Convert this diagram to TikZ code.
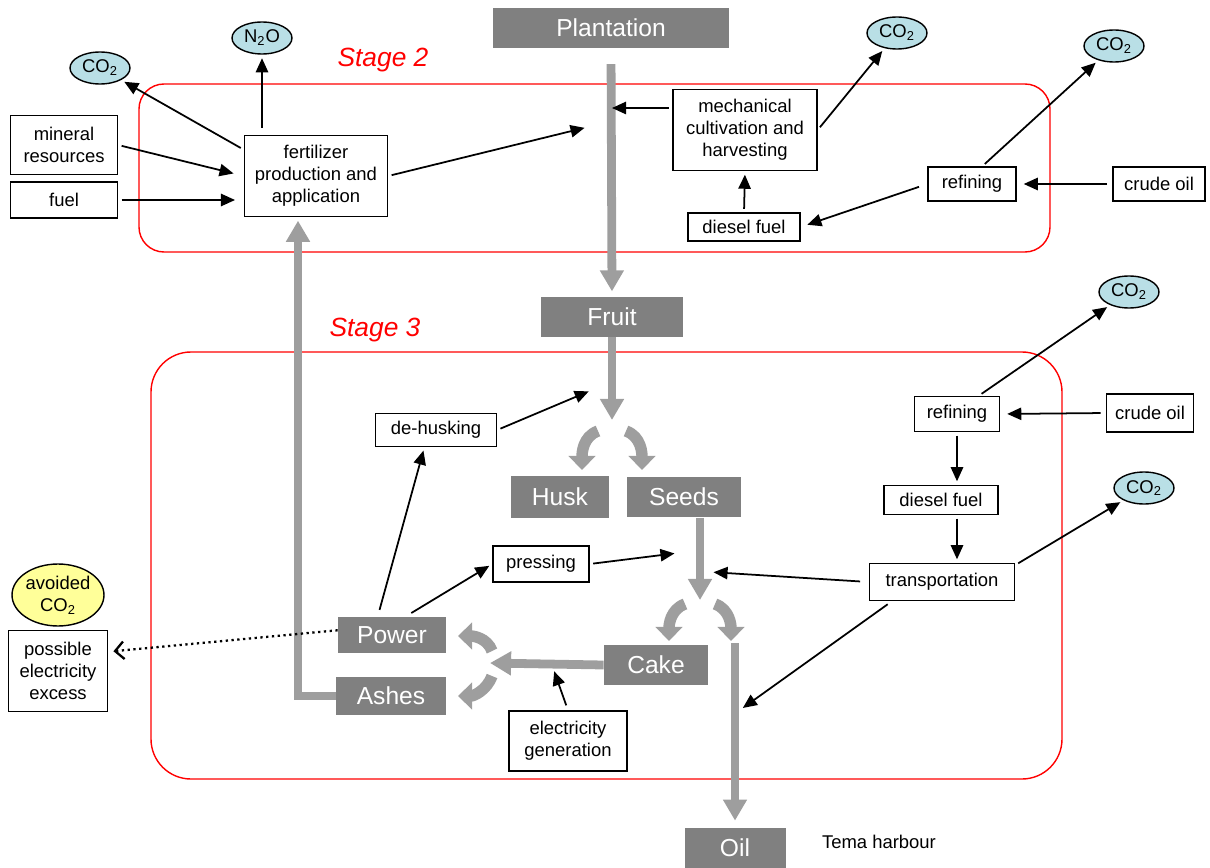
\documentclass[tikz,border=0pt]{standalone}
\usepackage{fontspec}
\setmainfont{Liberation Sans}
\usepackage{xcolor}
\usepackage{tikz}
\usetikzlibrary{arrows.meta,positioning,shapes.geometric}

\definecolor{flowgray}{RGB}{128,128,128}
\definecolor{pipegray}{RGB}{158,158,158}
\definecolor{gascyan}{RGB}{185,223,230}
\definecolor{avoidyellow}{RGB}{255,255,153}

\begin{document}
\begin{tikzpicture}[
  x=0.02cm,y=-0.02cm,
  proc/.style={draw,line width=0.8pt,fill=white,align=center,
    font=\fontsize{10.5}{12.5}\selectfont,inner sep=2pt},
  flow/.style={fill=flowgray,text=white,align=center,
    font=\fontsize{14}{16}\selectfont,minimum height=0.8cm,inner sep=2pt},
  gas/.style={ellipse,draw,line width=0.8pt,fill=gascyan,inner sep=0pt,
    font=\fontsize{10.5}{12.5}\selectfont,minimum width=1.2cm,minimum height=0.64cm},
  avoided/.style={ellipse,draw,line width=0.8pt,fill=avoidyellow,inner sep=0pt,align=center,
    font=\fontsize{10.5}{12.5}\selectfont,minimum width=1.84cm,minimum height=1.24cm},
  stage/.style={draw=red,line width=0.8pt},
  stagelabel/.style={text=red,font=\fontsize{15}{17}\selectfont\itshape},
  link/.style={-{Triangle[length=8pt,width=7pt]},line width=1pt,
    shorten <=2pt,shorten >=2pt},
  pipe/.style={-{Triangle[length=12pt,width=13pt]},line width=5pt,draw=pipegray},
  curlarrow/.style={-{Triangle[length=8pt,width=15pt]},line width=6.5pt,draw=pipegray},
  spill/.style={-{Straight Barb[length=5pt,width=10pt]},line width=1.3pt,dotted}
]
\useasboundingbox (0,0) rectangle (1210,868);

% stage frames
\draw[stage,rounded corners=0.5cm] (139,84) rectangle (1050,252);
\draw[stage,rounded corners=0.8cm] (151,352) rectangle (1062,779);
\node[stagelabel] (stageII) at (383,60) {Stage 2};
\node[stagelabel] (stageIII) at (375,330) {Stage 3};

% main material flow
\node[flow,minimum width=4.74cm] (plantation) at (611,28) {Plantation};
\node[flow,minimum width=2.84cm] (fruit) at (612,317) {Fruit};
\node[flow,minimum width=1.96cm,minimum height=0.84cm] (husk) at (560,497) {Husk};
\node[flow,minimum width=2.3cm,minimum height=0.82cm] (seeds) at (684,497) {Seeds};
\node[flow,minimum width=2.08cm] (cake) at (656,665) {Cake};
\node[flow,minimum width=2.02cm] (oil) at (735,848) {Oil};
\node[flow,minimum width=2.16cm,minimum height=0.72cm] (power) at (392,635) {Power};
\node[flow,minimum width=2.2cm,minimum height=0.76cm] (ashes) at (391,696) {Ashes};
\node[font=\fontsize{10.5}{12.5}\selectfont] (tema) at (879,842) {Tema harbour};

% stage 2 processes
\node[proc,minimum width=2.14cm,minimum height=1.18cm] (mineral) at (64,145) {mineral\\resources};
\node[proc,minimum width=2.14cm,minimum height=0.72cm] (fuel) at (64,200) {fuel};
\node[proc,minimum width=2.86cm,minimum height=1.62cm] (fert) at (316,176) {fertilizer\\production and\\application};
\node[proc,minimum width=2.88cm,minimum height=1.62cm] (mech) at (745,130) {mechanical\\cultivation and\\harvesting};
\node[proc,minimum width=2.24cm,minimum height=0.56cm] (dieselA) at (744,227) {diesel fuel};
\node[proc,minimum width=1.76cm,minimum height=0.68cm] (refA) at (972,184) {refining};
\node[proc,minimum width=1.84cm,minimum height=0.68cm] (crudeA) at (1159,184) {crude oil};

% stage 3 processes
\node[proc,minimum width=2.42cm,minimum height=0.66cm] (dehusk) at (436,430) {de-husking};
\node[proc,minimum width=1.92cm,minimum height=0.72cm] (press) at (541,564) {pressing};
\node[proc,minimum width=1.7cm,minimum height=0.7cm] (refB) at (957,414) {refining};
\node[proc,minimum width=1.74cm,minimum height=0.76cm] (crudeB) at (1150,413) {crude oil};
\node[proc,minimum width=2.28cm,minimum height=0.58cm] (dieselB) at (941,500) {diesel fuel};
\node[proc,minimum width=2.9cm,minimum height=0.74cm] (transp) at (942,582) {transportation};
\node[proc,minimum width=2.36cm,minimum height=1.2cm] (elgen) at (568,741) {electricity\\generation};
\node[proc,minimum width=1.98cm,minimum height=1.62cm] (excess) at (58,671) {possible\\electricity\\excess};

% emissions
\node[gas] (co2fert) at (100,68) {CO\textsubscript{2}};
\node[gas] (n2o) at (262,38) {N\textsubscript{2}O};
\node[gas] (co2mech) at (897,33) {CO\textsubscript{2}};
\node[gas] (co2refA) at (1114,46) {CO\textsubscript{2}};
\node[gas] (co2refB) at (1129,292) {CO\textsubscript{2}};
\node[gas] (co2transp) at (1144,488) {CO\textsubscript{2}};
\node[avoided] (avoid) at (58,595) {avoided\\CO\textsubscript{2}};

% tap points on the flow
\coordinate (tapFert) at (588,127);
\coordinate (tapMech) at (612,108);
\coordinate (splitFruit) at (612,420);
\coordinate (tapHusk) at (592,390);
\coordinate (splitSeeds) at (700,600);
\coordinate (tapPress) at (678,553);
\coordinate (tapTransp) at (710,572);
\coordinate (oilTop) at (735,643);
\coordinate (tapOil) at (740,710);
\coordinate (splitCake) at (490,663);
\coordinate (tapGen) at (553,668);
\coordinate (ashLine) at (298,0);

% grey flow arrows
\draw[pipe,shorten <=9pt,shorten >=3pt] (plantation.south) -- (fruit.north);
\draw[pipe] (fruit.south) -- (splitFruit);
\draw[curlarrow] (598,431) to[out=200,in=90] (582,470);
\draw[curlarrow] (626,431) to[out=-20,in=90] (642,470);
\draw[pipe] (seeds.south -| splitSeeds) -- (splitSeeds);
\draw[curlarrow] (685,604) to[out=200,in=90] (669,641);
\draw[curlarrow] (715,604) to[out=-20,in=90] (731,641);
\draw[pipe,shorten >=4pt] (oilTop) -- (oil.north);
\draw[pipe] (cake.west) -- (splitCake);
\draw[curlarrow] (492,651) to[out=110,in=0] (458,636);
\draw[curlarrow] (492,676) to[out=-110,in=0] (458,696);
\draw[pipe,shorten >=2pt] (ashes.west) -- (ashes.west -| ashLine) -- (ashLine |- fert.south);

% stage 2 links
\draw[link] (fert.160) -- (co2fert);
\draw[link,shorten <=4pt] (n2o.south |- fert.north) -- (n2o);
\draw[link,shorten >=6pt] (mineral.east) -- (fert.west);
\draw[link,shorten >=5pt] (fuel.east) -- (fert.west |- fuel.east);
\draw[link] (fert.east) -- (tapFert);
\draw[link,shorten >=0pt] (mech.west |- tapMech) -- (tapMech);
\draw[link] (mech.east) -- (co2mech);
\draw[link] (dieselA.north) -- (mech.south);
\draw[link,shorten <=5pt,shorten >=4pt] (refA.west) -- (dieselA.east);
\draw[link,shorten <=3pt,shorten >=4pt] (crudeA.west) -- (refA.east);
\draw[link] (refA.60) -- (co2refA);

% stage 3 links
\draw[link] (dehusk.east) -- (tapHusk);
\draw[link] (press.east) -- (tapPress);
\draw[link,shorten <=5pt] (transp.west) -- (tapTransp);
\draw[link,shorten <=3pt] (transp.201) -- (tapOil);
\draw[link] (transp.13) -- (co2transp);
\draw[link] (refB.40) -- (co2refB);
\draw[link,shorten <=3pt,shorten >=4pt] (crudeB.west) -- (refB.east);
\draw[link] (refB.south) -- (refB.south |- dieselB.north);
\draw[link] (refB.south |- dieselB.south) -- (refB.south |- transp.north);
\draw[link,shorten <=4pt] (power.128) -- (dehusk.236);
\draw[link,shorten <=4pt] (power.54) -- (press.west);
\draw[link,shorten <=3pt] (elgen.north) -- (tapGen);
\draw[spill,shorten >=3pt] (power.175) -- (excess.21);
\end{tikzpicture}
\end{document}
